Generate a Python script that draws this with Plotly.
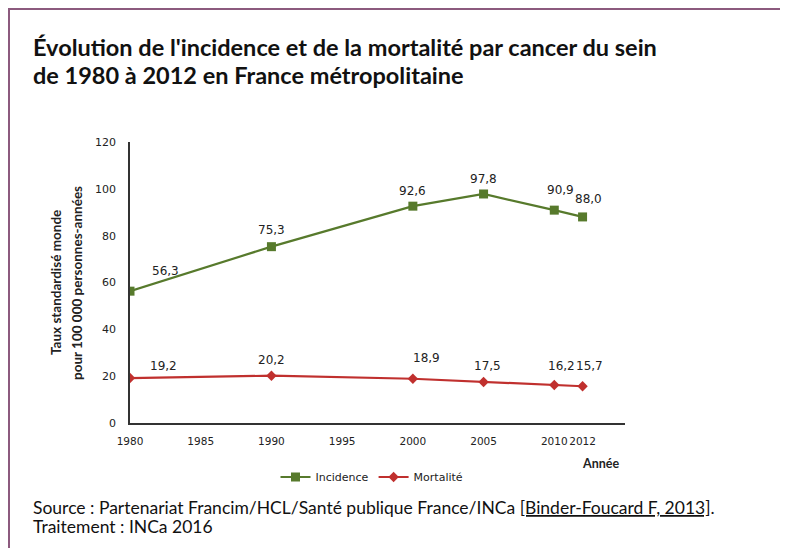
import plotly.graph_objects as go

annees = [1980, 1990, 2000, 2005, 2010, 2012]
incidence = [56.3, 75.3, 92.6, 97.8, 90.9, 88.0]
mortalite = [19.2, 20.2, 18.9, 17.5, 16.2, 15.7]
x_ticks = [1980, 1985, 1990, 1995, 2000, 2005, 2010, 2012]

# decalage des etiquettes (px)
inc_dx = [35, 0, 0, 0, 6, 6]
inc_dy = [20, 17, 15, 15, 20, 18]
mort_dx = [33, 0, 14, 4, 7, 7]
mort_dy = [12, 16, 21, 16, 19, 20]

vert = "#577a2c"
rouge = "#c0302e"

# la page a une marge de 8px : on travaille en px de l'image de reference
O = 8
FW, FH = 788 - O, 548 - O
L, T = 130 - O, 142 - O
W, H = 495, 281
R, B = FW - L - W, FH - T - H


def px(x):
    return (x - O - L) / W


def py(y):
    return (T + H - (y - O)) / H


fig = go.Figure()
fig.add_trace(go.Scatter(x=annees, y=incidence, name="Incidence", mode="lines+markers",
                         line=dict(color=vert, width=2.2),
                         marker=dict(symbol="square", size=9, color=vert)))
fig.add_trace(go.Scatter(x=annees, y=mortalite, name="Mortalité", mode="lines+markers",
                         line=dict(color=rouge, width=2.2),
                         marker=dict(symbol="diamond", size=8, color=rouge)))

for serie, dx, dy in [(incidence, inc_dx, inc_dy), (mortalite, mort_dx, mort_dy)]:
    for a, v, sx, sy in zip(annees, serie, dx, dy):
        fig.add_annotation(x=a, y=v, text=f"{v:.1f}".replace(".", ","), showarrow=False,
                           xshift=sx, yshift=sy,
                           font=dict(family="DejaVu Sans", size=12, color="#222"))

# titre (deux lignes)
titre = ["Évolution de l'incidence et de la mortalité par cancer du sein",
         "de 1980 à 2012 en France métropolitaine"]
for ligne, yy in zip(titre, [47, 75]):
    fig.add_annotation(xref="paper", yref="paper", x=px(31), y=py(yy), xanchor="left", yanchor="middle",
                       showarrow=False, text=ligne,
                       font=dict(family="Lato", size=23.5, color="#111", weight="bold"))
# titre axe y (deux lignes)
titre_y = ["Taux standardisé monde", "pour 100 000 personnes-années"]
for ligne, xx in zip(titre_y, [56, 77]):
    fig.add_annotation(xref="paper", yref="paper", x=px(xx), y=py(283), textangle=-90, showarrow=False,
                       xanchor="center", yanchor="middle", text=ligne,
                       font=dict(family="Lato", size=13.5, color="#222", weight="bold"))
fig.add_annotation(xref="paper", yref="paper", x=px(600), y=py(463), showarrow=False,
                   xanchor="center", yanchor="middle",
                   text="Année", font=dict(family="Lato", size=12.5, color="#222", weight="bold"))
# source
source = ["Source : Partenariat Francim/HCL/Santé publique France/INCa <u>[Binder-Foucard F, 2013]</u>.",
          "Traitement : INCa 2016"]
for ligne, yy in zip(source, [507, 526]):
    fig.add_annotation(xref="paper", yref="paper", x=px(31), y=py(yy), xanchor="left", yanchor="middle",
                       showarrow=False, text=ligne,
                       font=dict(family="Lato", size=17.5, color="#111"))

# cadre
fig.add_shape(type="line", xref="paper", yref="paper", x0=px(8), x1=px(800), y0=py(9), y1=py(9),
              line=dict(color="#8c5a7e", width=2))
fig.add_shape(type="line", xref="paper", yref="paper", x0=px(9), x1=px(9), y0=py(9), y1=py(560),
              line=dict(color="#8c5a7e", width=2))

fig.update_layout(
    width=FW, height=FH,
    margin=dict(l=L, r=R, t=T, b=B),
    paper_bgcolor="white", plot_bgcolor="white",
    showlegend=True,
    legend=dict(orientation="h", x=px(372), y=py(477), xanchor="center", yanchor="middle",
                font=dict(family="DejaVu Sans", size=11, color="#222"), itemwidth=30),
    xaxis=dict(range=[1980, 2015], tickvals=x_ticks, showgrid=False, zeroline=False, automargin=False,
               showline=True, linecolor="#333", linewidth=1.5, ticks="", ticklabelstandoff=8,
               tickangle=0, tickfont=dict(family="DejaVu Sans", size=10.5, color="#222")),
    yaxis=dict(range=[0, 120], dtick=20, showgrid=False, zeroline=False, automargin=False,
               showline=True, linecolor="#333", linewidth=1.5, ticks="", ticklabelstandoff=10,
               tickfont=dict(family="DejaVu Sans", size=11, color="#222")),
)

fig.write_html("out.html")
